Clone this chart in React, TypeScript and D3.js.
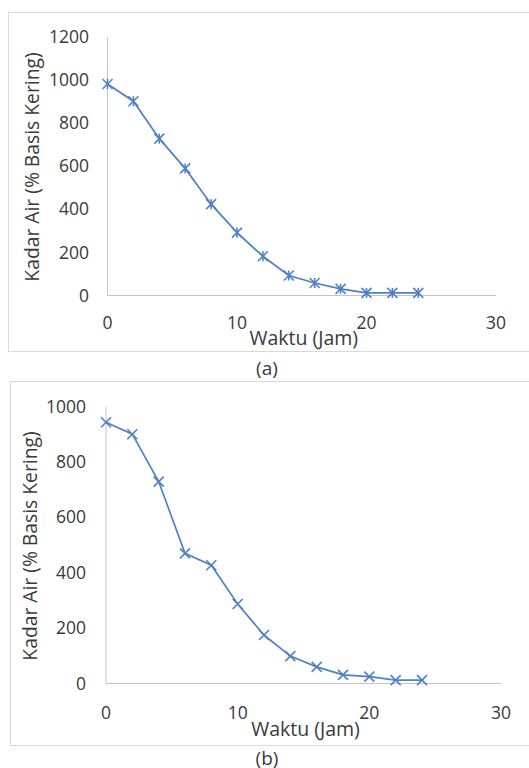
import React from 'react';
import * as d3 from 'd3';

const waktu = [0, 2, 4, 6, 8, 10, 12, 14, 16, 18, 20, 22, 24];
const kadarA = [982, 902, 728, 590, 424, 292, 182, 93, 58, 31, 12, 12, 12];
const kadarB = [943, 900, 729, 470, 427, 287, 175, 99, 60, 31, 25, 12, 12];
const xTicks = [0, 10, 20, 30];
const yTicksA = [0, 200, 400, 600, 800, 1000, 1200];
const yTicksB = [0, 200, 400, 600, 800, 1000];

const FONT = '"Open Sans", "Noto Sans", sans-serif';
const BLUE = '#4f81c7';
const AXIS = '#c4c4c4';
const INK = '#3a3a3a';

type PanelProps = {
  values: number[];
  yTicks: number[];
  box: { x0: number; y0: number; x1: number; y1: number };
  plot: { left: number; right: number; top: number; bottom: number };
  labelRight: number;
  xLabelY: number;
  titleY: number;
  yTitleX: number;
  yTitleY: number;
  captionY: number;
  caption: string;
  marker: 'star' | 'x';
};

const Panel = ({ values, yTicks, box, plot, labelRight, xLabelY, titleY, yTitleX, yTitleY, captionY, caption, marker }: PanelProps) => {
  const x = d3.scaleLinear().domain([0, 30]).range([plot.left, plot.right]);
  const y = d3.scaleLinear().domain([0, d3.max(yTicks)!]).range([plot.bottom, plot.top]);
  const line = d3.line<number>()
    .x((_, i) => x(waktu[i]))
    .y(d => y(d));
  const s = 5;

  return (
    <g>
      <rect x={box.x0} y={box.y0} width={box.x1 - box.x0} height={box.y1 - box.y0}
        fill="white" stroke="#d9d9d9" strokeWidth={1} />
      {/* axes, no tick marks */}
      <line x1={x(0)} x2={x(0)} y1={y(0)} y2={y(d3.max(yTicks)!)} stroke={AXIS} strokeWidth={1} />
      <line x1={x(0)} x2={x(30)} y1={y(0)} y2={y(0)} stroke={AXIS} strokeWidth={1} />
      {yTicks.map(t => (
        <text key={t} x={labelRight} y={y(t)} dy="0.35em" textAnchor="end"
          fontFamily={FONT} fontSize={17.5} fill={INK}>{t}</text>
      ))}
      {xTicks.map(t => (
        <text key={t} x={x(t)} y={xLabelY} dy="0.35em" textAnchor="middle"
          fontFamily={FONT} fontSize={17.5} fill={INK}>{t}</text>
      ))}
      <text x={(x(0) + x(30)) / 2 + 2} y={titleY} dy="0.35em" textAnchor="middle"
        fontFamily={FONT} fontSize={19.5} fill={INK}>Waktu (Jam)</text>
      <text transform={`translate(${yTitleX},${yTitleY}) rotate(-90)`}
        dy="0.35em" textAnchor="middle" fontFamily={FONT} fontSize={19.3} fill={INK}>
        Kadar Air (% Basis Kering)
      </text>
      <path d={line(values)!} fill="none" stroke={BLUE} strokeWidth={1.7} />
      {values.map((v, i) => {
        const cx = x(waktu[i]);
        const cy = y(v);
        return (
          <g key={i} stroke={BLUE} strokeWidth={1.6}>
            <line x1={cx - s} y1={cy - s} x2={cx + s} y2={cy + s} />
            <line x1={cx - s} y1={cy + s} x2={cx + s} y2={cy - s} />
            {marker === 'star' && <line x1={cx} y1={cy - s} x2={cx} y2={cy + s} />}
          </g>
        );
      })}
      <text x={267} y={captionY} dy="0.35em" textAnchor="middle"
        fontFamily={FONT} fontSize={19} fill={INK}>{caption}</text>
    </g>
  );
};

export default function App() {
  return (
    <svg width={529} height={768} style={{ position: 'absolute', left: 0, top: 0, background: 'white' }}>
      <Panel
        values={kadarA}
        yTicks={yTicksA}
        box={{ x0: 8.5, y0: 12.5, x1: 540, y1: 351.5 }}
        plot={{ left: 107.5, right: 496, top: 37, bottom: 295.5 }}
        labelRight={89}
        xLabelY={323}
        titleY={338}
        yTitleX={32}
        yTitleY={167}
        captionY={368}
        caption="(a)"
        marker="star"
      />
      <Panel
        values={kadarB}
        yTicks={yTicksB}
        box={{ x0: 10.5, y0: 381.5, x1: 540, y1: 745.5 }}
        plot={{ left: 106, right: 501, top: 406.5, bottom: 683.5 }}
        labelRight={86}
        xLabelY={713}
        titleY={729}
        yTitleX={30}
        yTitleY={546}
        captionY={758}
        caption="(b)"
        marker="x"
      />
    </svg>
  );
}
